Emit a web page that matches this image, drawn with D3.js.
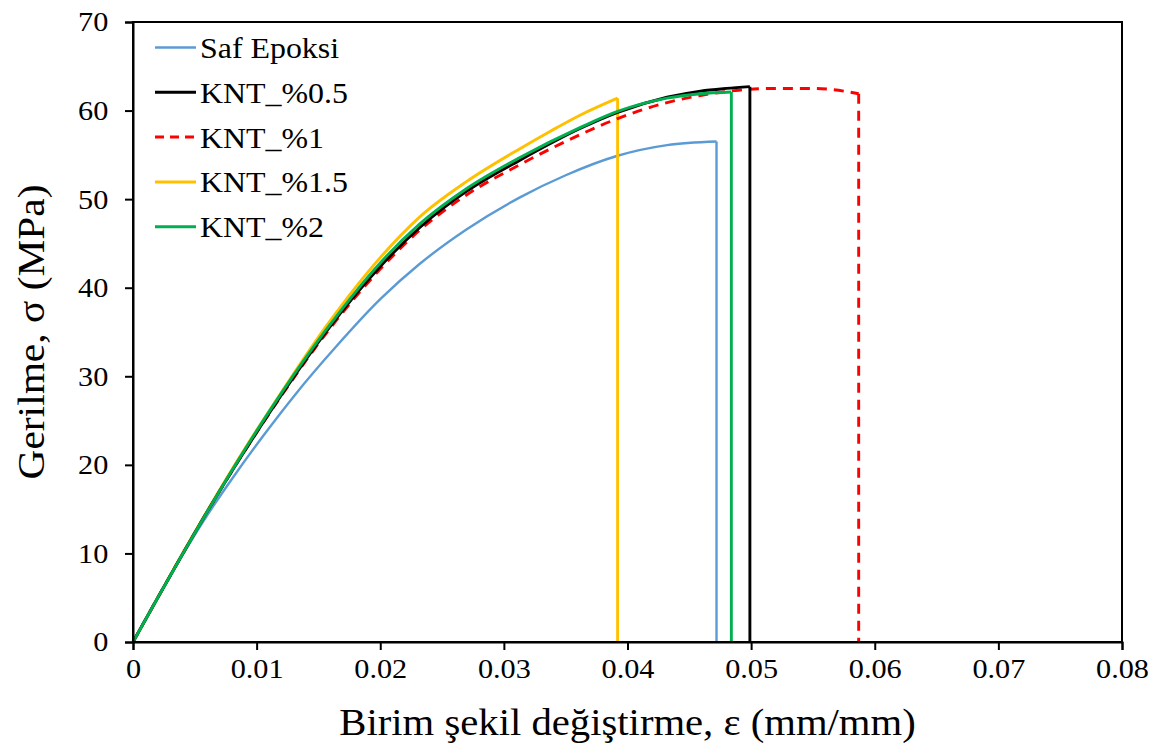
<html lang="tr">
<head>
<meta charset="UTF-8">
<title>Gerilme - birim şekil değiştirme</title>
<script src="https://cdn.jsdelivr.net/npm/d3@7"></script>
<style>
  body { margin: 0; background: #fff; }
  text { font-family: "Liberation Serif", "Times New Roman", serif; fill: #000; }
</style>
</head>
<body>
<script>
// series names + colours
let seriesNames = ["Saf Epoksi", "KNT_%0.5", "KNT_%1", "KNT_%1.5", "KNT_%2"];
let seriesColors = ["#5b9bd5", "#000000", "#ff0000", "#ffc000", "#00b050"];

// strain (mm/mm) / stress (MPa)
let safStrain = [0, 0.002, 0.004, 0.006, 0.008, 0.0106, 0.0131, 0.0164, 0.02, 0.0232, 0.027, 0.0313, 0.035, 0.0392, 0.0432, 0.0472, 0.0472];
let safStress = [0, 5.0, 9.8, 14.3, 18.4, 23.4, 27.9, 33.3, 38.7, 42.7, 46.6, 50.2, 52.7, 54.9, 56.1, 56.5, 0];

let knt05Strain = [0, 0.002, 0.004, 0.006, 0.0085, 0.0121, 0.0156, 0.02, 0.0232, 0.027, 0.0313, 0.0362, 0.0392, 0.0432, 0.0459, 0.048, 0.0499, 0.0499];
let knt05Stress = [0, 5.0, 9.9, 14.7, 20.4, 28.1, 35.0, 42.4, 46.8, 50.9, 54.4, 58.0, 59.8, 61.5, 62.2, 62.5, 62.7, 0];

let knt1Strain = [0, 0.002, 0.004, 0.006, 0.0085, 0.0121, 0.0156, 0.02, 0.0232, 0.027, 0.0313, 0.0362, 0.0392, 0.0432, 0.0459, 0.049, 0.052, 0.055, 0.0575, 0.0587, 0.0587];
let knt1Stress = [0, 5.0, 9.9, 14.7, 20.4, 28.0, 34.8, 42.1, 46.5, 50.5, 53.9, 57.3, 59.1, 60.9, 61.7, 62.3, 62.5, 62.5, 62.2, 61.9, 0];

let knt15Strain = [0, 0.002, 0.004, 0.006, 0.0085, 0.0121, 0.0156, 0.02, 0.0232, 0.027, 0.0313, 0.0338, 0.0362, 0.0392, 0.0392];
let knt15Stress = [0, 5.0, 10.0, 14.8, 20.6, 28.4, 35.6, 43.4, 48.0, 52.0, 55.7, 57.7, 59.5, 61.4, 0];

let knt2Strain = [0, 0.002, 0.004, 0.006, 0.0085, 0.0121, 0.0156, 0.02, 0.0232, 0.027, 0.0313, 0.0362, 0.0392, 0.0432, 0.0459, 0.0484, 0.0484];
let knt2Stress = [0, 5.0, 9.9, 14.7, 20.5, 28.3, 35.2, 42.8, 47.2, 51.2, 54.7, 58.1, 59.9, 61.4, 61.9, 62.1, 0];

let xTicks = [0, 0.01, 0.02, 0.03, 0.04, 0.05, 0.06, 0.07, 0.08];
let yTicks = [0, 10, 20, 30, 40, 50, 60, 70];

let allStrain = [safStrain, knt05Strain, knt1Strain, knt15Strain, knt2Strain];
let allStress = [safStress, knt05Stress, knt1Stress, knt15Stress, knt2Stress];

// draw order: blue, yellow, red, black, green (green on top like the picture)
let drawOrder = [0, 3, 2, 1, 4];

let W = 1160, H = 751;
let margin = {left: 133, right: 38, top: 22, bottom: 109};
let serif = '"Liberation Serif", "Times New Roman", serif';

let svg = d3.select('body').append('svg')
    .attr('width', W)
    .attr('height', H);

let x = d3.scaleLinear().domain([0, 0.08]).range([margin.left, W - margin.right]);
let y = d3.scaleLinear().domain([0, 70]).range([H - margin.bottom, margin.top]);

// curves
let line = d3.line()
    .x(function (d) { return x(d[0]); })
    .y(function (d) { return y(d[1]); })
    .curve(d3.curveMonotoneX);

let straight = d3.line()
    .x(function (d) { return x(d[0]); })
    .y(function (d) { return y(d[1]); });

drawOrder.forEach(function (i) {
    let pts = allStrain[i].map(function (s, k) { return [s, allStress[i][k]]; });
    let body = pts.slice(0, pts.length - 1);
    let drop = pts.slice(pts.length - 2);
    let g = svg.append('g');
    let w = i === 0 ? 2.4 : 2.9;
    g.append('path')
        .attr('d', line(body))
        .attr('fill', 'none')
        .attr('stroke', seriesColors[i])
        .attr('stroke-width', w)
        .attr('stroke-dasharray', i === 2 ? '10,7' : null);
    g.append('path')
        .attr('d', straight(drop))
        .attr('fill', 'none')
        .attr('stroke', seriesColors[i])
        .attr('stroke-width', w)
        .attr('stroke-dasharray', i === 2 ? '10,7' : null);
});

// frame
svg.append('rect')
    .attr('x', x(0))
    .attr('y', y(70))
    .attr('width', x(0.08) - x(0))
    .attr('height', y(0) - y(70))
    .attr('fill', 'none')
    .attr('stroke', '#000')
    .attr('stroke-width', 2);

// axes
let xAxis = svg.append('g')
    .attr('transform', 'translate(0,' + y(0) + ')')
    .call(d3.axisBottom(x).tickValues(xTicks).tickSize(8).tickPadding(8)
        .tickFormat(function (d) { return d === 0 ? '0' : d3.format('.2f')(d); }));

let yAxis = svg.append('g')
    .attr('transform', 'translate(' + x(0) + ',0)')
    .call(d3.axisLeft(y).tickValues(yTicks).tickSize(8).tickPadding(13));

[xAxis, yAxis].forEach(function (a) {
    a.attr('font-family', serif);
    a.select('.domain').attr('stroke', '#000').attr('stroke-width', 2);
    a.selectAll('.tick line').attr('stroke', '#000').attr('stroke-width', 2);
    a.selectAll('.tick text')
        .style('font-family', serif)
        .style('font-size', '28px')
        .attr('fill', '#000');
});
// the picture's text is a little wider than normal Times
xAxis.selectAll('.tick text').attr('transform', 'scale(1.08,1)');
yAxis.selectAll('.tick text').attr('transform', 'translate(-2,0) scale(1.08,1)');

// axis titles
svg.append('text')
    .attr('transform', 'translate(' + x(0.04) + ',735) scale(1.1,1)')
    .attr('text-anchor', 'middle')
    .style('font-family', serif)
    .style('font-size', '37px')
    .text('Birim şekil değiştirme, ε (mm/mm)');

svg.append('text')
    .attr('transform', 'translate(44,' + (y(35) + 0) + ') rotate(-90) scale(1.12,1)')
    .attr('text-anchor', 'middle')
    .style('font-family', serif)
    .style('font-size', '37px')
    .text('Gerilme, σ (MPa)');

// legend
let legend = svg.append('g');
seriesNames.forEach(function (name, i) {
    let ly = 47.5 + i * 44.8;
    legend.append('line')
        .attr('x1', 155).attr('x2', 196)
        .attr('y1', ly).attr('y2', ly)
        .attr('stroke', seriesColors[i])
        .attr('stroke-width', i === 0 ? 2.6 : 3)
        .attr('stroke-dasharray', i === 2 ? '9,6' : null);
    legend.append('text')
        .attr('transform', 'translate(200,' + (ly + 10.5) + ') scale(1.1,1)')
        .style('font-family', serif)
        .style('font-size', '29px')
        .text(name);
});
</script>
</body>
</html>
